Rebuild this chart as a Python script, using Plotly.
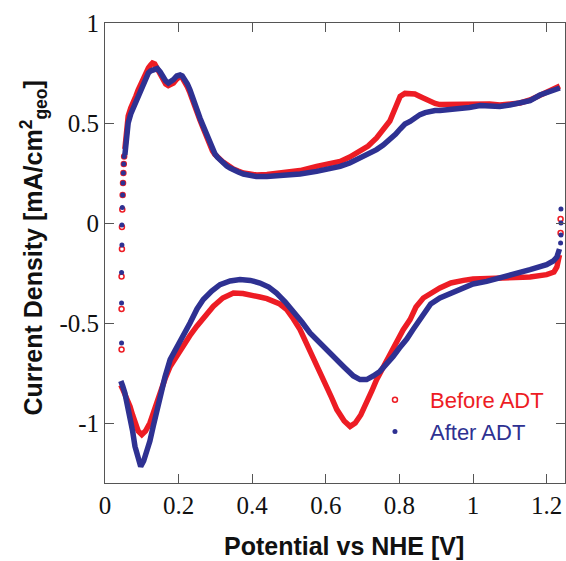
import plotly.graph_objects as go

# ---- Before ADT (red) ----
before_anodic_v = [0.054, 0.058, 0.063, 0.070, 0.077, 0.084, 0.090, 0.097, 0.104, 0.111, 0.118, 0.124, 0.129, 0.135,
                   0.145, 0.152, 0.158, 0.165, 0.172, 0.179, 0.186, 0.195, 0.204, 0.210, 0.217, 0.224, 0.231, 0.238,
                   0.245, 0.252, 0.258, 0.265, 0.272, 0.279, 0.285, 0.292, 0.299, 0.306, 0.3125, 0.322, 0.331, 0.340,
                   0.349, 0.362, 0.376, 0.394, 0.412, 0.44, 0.485, 0.53, 0.575, 0.61, 0.639, 0.665, 0.693, 0.715,
                   0.738, 0.756, 0.774, 0.79, 0.802, 0.815, 0.829, 0.842, 0.856, 0.87, 0.883, 0.897, 0.91, 0.937,
                   0.965, 0.99, 1.019, 1.045, 1.073, 1.10, 1.128, 1.155, 1.182, 1.21, 1.236]
before_anodic_j = [0.37, 0.46, 0.535, 0.575, 0.60, 0.635, 0.665, 0.695, 0.725, 0.75, 0.775, 0.79, 0.80, 0.795,
                   0.765, 0.74, 0.715, 0.695, 0.687, 0.69, 0.70, 0.72, 0.733, 0.725, 0.705, 0.68, 0.65, 0.61,
                   0.575, 0.545, 0.515, 0.483, 0.45, 0.415, 0.383, 0.36, 0.342, 0.328, 0.317, 0.303, 0.292, 0.28,
                   0.27, 0.26, 0.25, 0.245, 0.24, 0.243, 0.25, 0.262, 0.283, 0.295, 0.308, 0.33, 0.358, 0.385,
                   0.425, 0.465, 0.51, 0.58, 0.633, 0.648, 0.65, 0.645, 0.633, 0.62, 0.608, 0.598, 0.592, 0.593,
                   0.595, 0.598, 0.60, 0.595, 0.59, 0.593, 0.60, 0.615, 0.64, 0.66, 0.685]
before_cathodic_v = [1.235, 1.228, 1.22, 1.20, 1.155, 1.10, 1.037, 1.0, 0.974, 0.94, 0.91, 0.885, 0.865, 0.845,
                     0.829, 0.81, 0.795, 0.783, 0.765, 0.747, 0.738, 0.725, 0.711, 0.695, 0.68, 0.666, 0.65, 0.63,
                     0.615, 0.602, 0.585, 0.566, 0.548, 0.53, 0.512, 0.494, 0.475, 0.457, 0.44, 0.421, 0.40, 0.375,
                     0.349, 0.32, 0.294, 0.27, 0.249, 0.23, 0.213, 0.195, 0.177, 0.163, 0.149, 0.135, 0.122, 0.11,
                     0.10, 0.09, 0.0815, 0.075, 0.068, 0.061, 0.054, 0.048, 0.043]
before_cathodic_j = [-0.16, -0.22, -0.245, -0.258, -0.27, -0.272, -0.275, -0.28, -0.287, -0.30, -0.325, -0.35,
                     -0.375, -0.42, -0.483, -0.535, -0.585, -0.625, -0.69, -0.75, -0.783, -0.84, -0.90, -0.96,
                     -1.0, -1.017, -0.99, -0.933, -0.87, -0.817, -0.745, -0.667, -0.60, -0.533, -0.48, -0.433,
                     -0.405, -0.39, -0.378, -0.37, -0.36, -0.353, -0.35, -0.375, -0.417, -0.465, -0.517, -0.565,
                     -0.617, -0.665, -0.717, -0.78, -0.85, -0.93, -1.0, -1.04, -1.058, -1.04, -1.0, -0.96, -0.917,
                     -0.88, -0.85, -0.83, -0.81]
before_switch_v = [0.045, 0.045, 0.045, 0.046, 0.046, 0.047, 0.048, 0.049, 0.050, 0.051, 0.052,
                   1.238, 1.238]
before_switch_j = [-0.633, -0.43, -0.267, -0.13, -0.02, 0.067, 0.14, 0.20, 0.25, 0.295, 0.333,
                   0.02, -0.05]

# ---- After ADT (blue) ----
after_anodic_v = [0.054, 0.058, 0.063, 0.070, 0.077, 0.084, 0.090, 0.097, 0.104, 0.111, 0.118, 0.124, 0.129, 0.135,
                  0.142, 0.150, 0.158, 0.165, 0.172, 0.179, 0.186, 0.195, 0.204, 0.210, 0.217, 0.224, 0.231, 0.238,
                  0.245, 0.252, 0.258, 0.265, 0.272, 0.279, 0.285, 0.292, 0.299, 0.306, 0.3125, 0.322, 0.331, 0.340,
                  0.349, 0.362, 0.376, 0.394, 0.412, 0.44, 0.485, 0.53, 0.575, 0.61, 0.639, 0.665, 0.693, 0.715,
                  0.738, 0.756, 0.774, 0.79, 0.802, 0.815, 0.829, 0.842, 0.856, 0.87, 0.883, 0.897, 0.91, 0.937,
                  0.965, 0.99, 1.019, 1.045, 1.073, 1.10, 1.128, 1.155, 1.182, 1.21, 1.236]
after_anodic_j = [0.34, 0.43, 0.50, 0.545, 0.575, 0.61, 0.64, 0.67, 0.70, 0.725, 0.75, 0.76, 0.765, 0.772,
                  0.772, 0.755, 0.73, 0.71, 0.70, 0.705, 0.717, 0.735, 0.74, 0.735, 0.72, 0.695, 0.665, 0.625,
                  0.59, 0.557, 0.525, 0.493, 0.46, 0.425, 0.395, 0.367, 0.345, 0.328, 0.315, 0.30, 0.285, 0.275,
                  0.265, 0.255, 0.245, 0.235, 0.232, 0.232, 0.237, 0.245, 0.258, 0.27, 0.283, 0.30, 0.325, 0.345,
                  0.367, 0.39, 0.417, 0.445, 0.47, 0.495, 0.508, 0.525, 0.542, 0.552, 0.558, 0.562, 0.563, 0.566,
                  0.57, 0.578, 0.587, 0.585, 0.583, 0.59, 0.60, 0.612, 0.64, 0.655, 0.675]
after_cathodic_v = [1.235, 1.228, 1.218, 1.20, 1.155, 1.10, 1.037, 1.0, 0.974, 0.94, 0.91, 0.885, 0.865, 0.856,
                    0.838, 0.82, 0.81, 0.80, 0.783, 0.766, 0.747, 0.729, 0.711, 0.693, 0.675, 0.648, 0.625, 0.602,
                    0.58, 0.557, 0.535, 0.512, 0.49, 0.466, 0.445, 0.421, 0.395, 0.367, 0.34, 0.3125, 0.29, 0.267,
                    0.25, 0.231, 0.217, 0.204, 0.19, 0.177, 0.163, 0.149, 0.14, 0.131, 0.122, 0.113, 0.105, 0.097,
                    0.09, 0.0815, 0.075, 0.068, 0.061, 0.054, 0.048, 0.043]
after_cathodic_j = [-0.13, -0.17, -0.19, -0.208, -0.233, -0.263, -0.292, -0.305, -0.325, -0.35, -0.375, -0.405,
                    -0.455, -0.48, -0.53, -0.58, -0.60, -0.625, -0.667, -0.70, -0.742, -0.765, -0.783, -0.783,
                    -0.765, -0.717, -0.675, -0.633, -0.595, -0.55, -0.495, -0.442, -0.395, -0.35, -0.32, -0.30,
                    -0.287, -0.283, -0.29, -0.308, -0.34, -0.383, -0.43, -0.50, -0.545, -0.583, -0.63, -0.683,
                    -0.77, -0.867, -0.94, -1.017, -1.09, -1.15, -1.19, -1.217, -1.18, -1.117, -1.04, -0.967,
                    -0.905, -0.85, -0.815, -0.79]
after_switch_v = [0.045, 0.045, 0.045, 0.046, 0.046, 0.047, 0.048, 0.049, 0.050, 0.051, 0.052,
                  1.239, 1.239, 1.239, 1.238]
after_switch_j = [-0.60, -0.40, -0.247, -0.11, -0.01, 0.078, 0.14, 0.20, 0.25, 0.295, 0.333,
                  0.07, 0.0, -0.06, -0.10]

# ---- axis ticks ----
x_tickvals = [0, 0.2, 0.4, 0.6, 0.8, 1.0, 1.2]
x_ticktext = ["0", "0.2", "0.4", "0.6", "0.8", "1", "1.2"]
y_tickvals = [-1, -0.5, 0, 0.5, 1]
y_ticktext = ["-1", "-0.5", "0", "0.5", "1"]

RED = "#ED1C24"
BLUE = "#2E3192"
SERIF = "Liberation Serif, Times New Roman, serif"
SANS = "Liberation Sans, Arial, sans-serif"

fig = go.Figure()
for v, j in [(before_anodic_v, before_anodic_j), (before_cathodic_v, before_cathodic_j)]:
    fig.add_trace(go.Scatter(x=v, y=j, mode="lines", line=dict(color=RED, width=5.5),
                             showlegend=False, hoverinfo="skip"))
fig.add_trace(go.Scatter(x=before_switch_v, y=before_switch_j, mode="markers",
                         marker=dict(symbol="circle-open", size=5, color=RED, line=dict(width=1.5, color=RED)),
                         name='<span style="color:#ED1C24">Before ADT</span>'))
for v, j in [(after_anodic_v, after_anodic_j), (after_cathodic_v, after_cathodic_j)]:
    fig.add_trace(go.Scatter(x=v, y=j, mode="lines", line=dict(color=BLUE, width=5.5),
                             showlegend=False, hoverinfo="skip"))
fig.add_trace(go.Scatter(x=after_switch_v, y=after_switch_j, mode="markers",
                         marker=dict(symbol="circle", size=5, color=BLUE),
                         name='<span style="color:#2E3192">After ADT</span>'))

axis_common = dict(showline=True, linecolor="#555555", linewidth=1, mirror="ticks", ticks="inside",
                   ticklen=9, tickcolor="#555555", showgrid=False, zeroline=False,
                   tickfont=dict(family=SERIF, size=25, color="#111111"))

fig.update_layout(
    width=566, height=561,
    margin=dict(l=105, r=1, t=23, b=78),
    plot_bgcolor="white", paper_bgcolor="white",
    xaxis=dict(range=[0, 1.25], tickvals=x_tickvals, ticktext=x_ticktext, **axis_common),
    yaxis=dict(range=[-1.3, 1], tickvals=y_tickvals, ticktext=y_ticktext, **axis_common),
    legend=dict(x=0.5543, y=0.226, xanchor="left", yanchor="top", bgcolor="rgba(0,0,0,0)",
                font=dict(family=SANS, size=22), itemwidth=60),
    annotations=[
        dict(text="Potential vs NHE [V]", xref="paper", yref="paper", x=0.52, y=-0.137,
             xanchor="center", yanchor="middle", showarrow=False,
             font=dict(family=SANS, size=25, color="#111111", weight="bold")),
        dict(text="Current Density [mA/cm<sup>2</sup><sub>geo</sub>]", xref="paper", yref="paper",
             x=-0.1565, y=0.1413, xanchor="center", yanchor="bottom", textangle=-90, showarrow=False,
             font=dict(family=SANS, size=25, color="#111111", weight="bold")),
    ],
)

fig.write_html("out.html", config={"displayModeBar": False},
               post_script="document.body.style.margin='0px';")
